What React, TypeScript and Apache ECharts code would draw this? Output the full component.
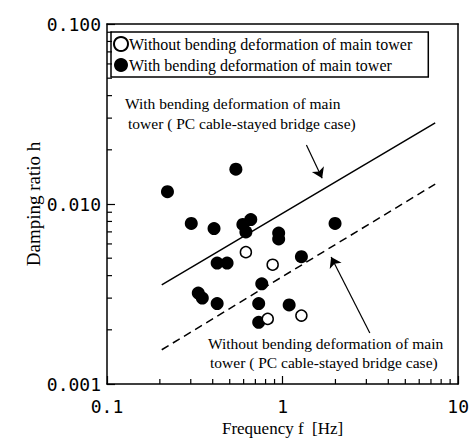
import React, { useEffect, useRef } from "react";
import * as echarts from "echarts";

// Frequency f [Hz], damping ratio h
const withBending: [number, number][] = [
  [0.221, 0.0117],
  [0.542, 0.0156],
  [0.302, 0.0078],
  [0.407, 0.0073],
  [0.594, 0.0077],
  [0.659, 0.0082],
  [0.618, 0.007],
  [0.424, 0.0047],
  [0.483, 0.0047],
  [0.95, 0.0069],
  [0.95, 0.0064],
  [1.99, 0.0078],
  [1.28, 0.0051],
  [0.761, 0.0036],
  [1.09, 0.00275],
  [0.331, 0.0032],
  [0.349, 0.003],
  [0.424, 0.0028],
  [0.731, 0.0028],
  [0.731, 0.0022],
];
const withoutBending: [number, number][] = [
  [0.618, 0.0054],
  [0.878, 0.0046],
  [0.823, 0.0023],
  [1.28, 0.0024],
];
const solidLine: [number, number][] = [
  [0.205, 0.00355],
  [7.4, 0.0282],
];
const dashedLine: [number, number][] = [
  [0.205, 0.00155],
  [7.4, 0.0129],
];
const arrowUpper: [number, number][] = [
  [1.367, 0.0213],
  [1.68, 0.0139],
];
const arrowLower: [number, number][] = [
  [3.14, 0.00192],
  [1.89, 0.00508],
];
const xMinorTicks = [0.2, 0.3, 0.4, 0.5, 0.6, 0.7, 0.8, 0.9, 2, 3, 4, 5, 6, 7, 8, 9];
const yMinorTicks = [
  0.002, 0.003, 0.004, 0.005, 0.006, 0.007, 0.008, 0.009, 0.02, 0.03, 0.04, 0.05,
  0.06, 0.07, 0.08, 0.09,
];
const xTickLabels = ["0.1", "1", "10"];
const yTickLabels = ["0.001", "0.010", "0.100"];

const nameWithout = "Without bending deformation of main tower";
const nameWith = "With bending deformation of main tower";

const SERIF = "'Liberation Serif', 'Times New Roman', serif";
const MONO = "'DejaVu Sans Mono', monospace";

export default function App() {
  const ref = useRef<HTMLDivElement>(null);
  useEffect(() => {
    if (!ref.current) return;
    const chart = echarts.init(ref.current, undefined, { renderer: "svg" });
    const annoStyle = (text: string) => ({
      text,
      font: `15.5px ${SERIF}`,
      fill: "#000",
      verticalAlign: "middle",
    });
    const minorTick = (dir: "x" | "y") => (params: any, api: any) => {
      const p = api.coord([api.value(0), api.value(1)]);
      return {
        type: "line",
        shape:
          dir === "x"
            ? { x1: p[0], y1: p[1], x2: p[0], y2: p[1] - 5 }
            : { x1: p[0], y1: p[1], x2: p[0] + 5, y2: p[1] },
        style: { stroke: "#000", lineWidth: 1.2 },
      };
    };
    const frameAxis = {
      type: "log",
      logBase: 10,
      axisLine: { show: true, onZero: false, lineStyle: { color: "#000", width: 1.5 } },
      axisTick: { show: false },
      axisLabel: { show: false },
      splitLine: { show: false },
    };
    chart.setOption({
      animation: false,
      backgroundColor: "#fff",
      grid: { left: 107, top: 24, width: 354, height: 360, show: false },
      legend: {
        data: [nameWithout, nameWith],
        orient: "vertical",
        left: 111,
        top: 32,
        itemWidth: 14,
        itemHeight: 14,
        itemGap: 5,
        borderColor: "#000",
        borderWidth: 1.5,
        padding: [4, 16, 4, 2],
        textStyle: { fontFamily: SERIF, fontSize: 16, color: "#000", padding: [0, 0, 0, -4] },
        selectedMode: false,
      },
      xAxis: [
        {
          type: "log",
          logBase: 10,
          min: 0.1,
          max: 10,
          position: "bottom",
          name: "Frequency f  [Hz]",
          nameLocation: "middle",
          nameGap: 36,
          nameTextStyle: { fontFamily: SERIF, fontSize: 17, color: "#000" },
          axisLine: { show: true, onZero: false, lineStyle: { color: "#000", width: 1.5 } },
          axisTick: { show: true, inside: true, length: 8, lineStyle: { color: "#000", width: 1.2 } },
          axisLabel: {
            margin: 13,
            fontFamily: MONO,
            fontSize: 18,
            color: "#000",
            formatter: (v: number) => xTickLabels[Math.round(Math.log10(v)) + 1] ?? "",
          },
          splitLine: { show: false },
        },
        { ...frameAxis, min: 0.1, max: 10, position: "top" },
      ],
      yAxis: [
        {
          type: "log",
          logBase: 10,
          min: 0.001,
          max: 0.1,
          position: "left",
          name: "Damping ratio h",
          nameLocation: "middle",
          nameGap: 64,
          nameMoveOverlap: false,
          nameTextStyle: { fontFamily: SERIF, fontSize: 19, color: "#000" },
          axisLine: { show: true, onZero: false, lineStyle: { color: "#000", width: 1.5 } },
          axisTick: { show: true, inside: true, length: 8, lineStyle: { color: "#000", width: 1.2 } },
          axisLabel: {
            margin: 6,
            fontFamily: MONO,
            fontSize: 18,
            color: "#000",
            formatter: (v: number) => yTickLabels[Math.round(Math.log10(v)) + 3] ?? "",
          },
          splitLine: { show: false },
        },
        { ...frameAxis, min: 0.001, max: 0.1, position: "right" },
      ],
      graphic: [
        { type: "text", x: 125, y: 103, style: annoStyle("With bending deformation of main") },
        { type: "text", x: 128, y: 123, style: annoStyle("tower ( PC cable-stayed bridge case)") },
        { type: "text", x: 208, y: 343, style: annoStyle("Without bending deformation of main") },
        { type: "text", x: 210, y: 362, style: annoStyle("tower ( PC cable-stayed bridge case)") },
      ],
      series: [
        {
          name: nameWithout,
          type: "scatter",
          data: withoutBending,
          symbol: "circle",
          symbolSize: 11,
          itemStyle: { color: "#fff", borderColor: "#000", borderWidth: 1.5, opacity: 1 },
          z: 5,
        },
        {
          name: nameWith,
          type: "scatter",
          data: withBending,
          symbol: "circle",
          symbolSize: 13,
          itemStyle: { color: "#000", opacity: 1 },
          z: 4,
        },
        {
          name: "solid",
          type: "line",
          data: solidLine,
          showSymbol: false,
          symbol: "none",
          lineStyle: { color: "#000", width: 1.5 },
        },
        {
          name: "dashed",
          type: "line",
          data: dashedLine,
          showSymbol: false,
          symbol: "none",
          lineStyle: { color: "#000", width: 1.5, type: [8, 5] },
        },
        {
          name: "arrows",
          type: "lines",
          coordinateSystem: "cartesian2d",
          symbol: ["none", "arrow"],
          symbolSize: 10,
          lineStyle: { color: "#000", width: 1.2, opacity: 1 },
          data: [{ coords: arrowUpper }, { coords: arrowLower }],
        },
        {
          name: "xMinor",
          type: "custom",
          clip: false,
          silent: true,
          renderItem: minorTick("x"),
          data: xMinorTicks.map((v) => [v, 0.001]),
          z: 6,
        },
        {
          name: "yMinor",
          type: "custom",
          clip: false,
          silent: true,
          renderItem: minorTick("y"),
          data: yMinorTicks.map((v) => [0.1, v]),
          z: 6,
        },
      ],
    });
    return () => chart.dispose();
  }, []);
  return (
    <div
      ref={ref}
      style={{ position: "fixed", left: 0, top: 0, width: 472, height: 443, background: "#fff" }}
    />
  );
}
